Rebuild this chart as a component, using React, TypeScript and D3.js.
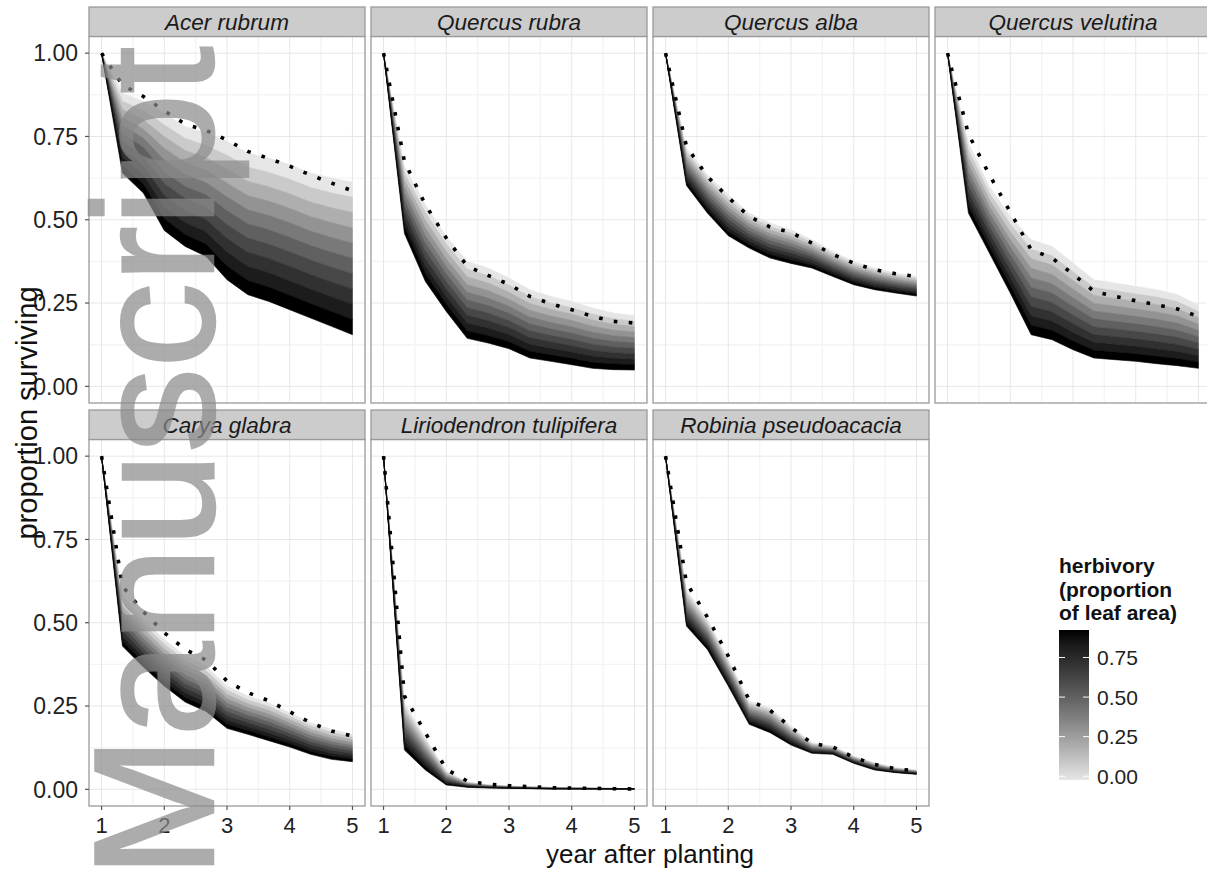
import * as d3 from 'd3';
import { FC } from 'react';

// census times (years after planting)
const years = [1, 1.333, 1.667, 2, 2.333, 2.667, 3, 3.333, 3.667, 4, 4.333, 4.667, 5];

const speciesNames = [
  'Acer rubrum',
  'Quercus rubra',
  'Quercus alba',
  'Quercus velutina',
  'Carya glabra',
  'Liriodendron tulipifera',
  'Robinia pseudoacacia',
];

// dotted line (undamaged) and shaded envelope: least (low) and most (high) herbivory
const acerRubrumObs = [1.0, 0.905, 0.87, 0.827, 0.787, 0.768, 0.739, 0.705, 0.684, 0.661, 0.634, 0.61, 0.587];
const acerRubrumLow = [1.0, 0.88, 0.855, 0.82, 0.78, 0.76, 0.735, 0.7, 0.685, 0.665, 0.64, 0.625, 0.613];
const acerRubrumHigh = [1.0, 0.64, 0.58, 0.468, 0.42, 0.39, 0.32, 0.275, 0.255, 0.23, 0.205, 0.18, 0.155];

const quercusRubraObs = [1.0, 0.675, 0.545, 0.445, 0.361, 0.333, 0.306, 0.27, 0.248, 0.23, 0.21, 0.195, 0.19];
const quercusRubraLow = [1.0, 0.66, 0.545, 0.45, 0.375, 0.355, 0.325, 0.29, 0.27, 0.255, 0.235, 0.22, 0.212];
const quercusRubraHigh = [1.0, 0.459, 0.315, 0.225, 0.144, 0.13, 0.113, 0.085, 0.075, 0.065, 0.054, 0.05, 0.049];

const quercusAlbaObs = [1.0, 0.72, 0.63, 0.567, 0.51, 0.478, 0.462, 0.43, 0.396, 0.37, 0.35, 0.338, 0.33];
const quercusAlbaLow = [1.0, 0.715, 0.635, 0.575, 0.52, 0.49, 0.47, 0.44, 0.405, 0.375, 0.355, 0.34, 0.33];
const quercusAlbaHigh = [1.0, 0.603, 0.52, 0.452, 0.415, 0.385, 0.369, 0.355, 0.33, 0.305, 0.29, 0.28, 0.271];

const quercusVelutinaObs = [1.0, 0.757, 0.635, 0.523, 0.41, 0.385, 0.337, 0.285, 0.27, 0.257, 0.245, 0.232, 0.21];
const quercusVelutinaLow = [1.0, 0.73, 0.6, 0.51, 0.44, 0.42, 0.37, 0.32, 0.31, 0.3, 0.29, 0.275, 0.244];
const quercusVelutinaHigh = [1.0, 0.52, 0.4, 0.28, 0.155, 0.14, 0.11, 0.085, 0.08, 0.075, 0.068, 0.062, 0.054];

const caryaGlabraObs = [1.0, 0.61, 0.533, 0.47, 0.42, 0.388, 0.325, 0.29, 0.266, 0.233, 0.2, 0.175, 0.16];
const caryaGlabraLow = [1.0, 0.58, 0.51, 0.45, 0.4, 0.37, 0.31, 0.28, 0.26, 0.23, 0.2, 0.18, 0.165];
const caryaGlabraHigh = [1.0, 0.43, 0.367, 0.31, 0.262, 0.234, 0.183, 0.165, 0.146, 0.127, 0.105, 0.09, 0.083];

const liriodendronObs = [1.0, 0.28, 0.17, 0.06, 0.025, 0.015, 0.011, 0.008, 0.005, 0.004, 0.003, 0.002, 0.001];
const liriodendronLow = [1.0, 0.26, 0.155, 0.055, 0.022, 0.014, 0.01, 0.008, 0.006, 0.005, 0.004, 0.003, 0.002];
const liriodendronHigh = [1.0, 0.118, 0.058, 0.013, 0.006, 0.004, 0.003, 0.002, 0.001, 0.001, 0.001, 0.001, 0.001];

const robiniaObs = [1.0, 0.62, 0.517, 0.4, 0.268, 0.237, 0.186, 0.138, 0.127, 0.096, 0.075, 0.062, 0.055];
const robiniaLow = [1.0, 0.6, 0.51, 0.39, 0.265, 0.245, 0.19, 0.14, 0.13, 0.1, 0.08, 0.065, 0.058];
const robiniaHigh = [1.0, 0.49, 0.42, 0.31, 0.195, 0.17, 0.133, 0.108, 0.105, 0.078, 0.058, 0.05, 0.045];

// herbivory classes drawn as stacked shades, least damage on top
const herbivoryLevels = [0, 0.1, 0.2, 0.3, 0.4, 0.5, 0.6, 0.7, 0.8, 0.9];
const herbivoryMax = 0.9;
const xTicks = [1, 2, 3, 4, 5];
const xMinor = [1.5, 2.5, 3.5, 4.5];
const yTicks = [0, 0.25, 0.5, 0.75, 1];
const yMinor = [0.125, 0.375, 0.625, 0.875];
const legendTicks = [0, 0.25, 0.5, 0.75];

const panels = [
  { obs: acerRubrumObs, low: acerRubrumLow, high: acerRubrumHigh },
  { obs: quercusRubraObs, low: quercusRubraLow, high: quercusRubraHigh },
  { obs: quercusAlbaObs, low: quercusAlbaLow, high: quercusAlbaHigh },
  { obs: quercusVelutinaObs, low: quercusVelutinaLow, high: quercusVelutinaHigh },
  { obs: caryaGlabraObs, low: caryaGlabraLow, high: caryaGlabraHigh },
  { obs: liriodendronObs, low: liriodendronLow, high: liriodendronHigh },
  { obs: robiniaObs, low: robiniaLow, high: robiniaHigh },
].map((p, i) => ({ ...p, name: speciesNames[i] }));

type PanelData = (typeof panels)[number];
type Pt = { t: number; obs: number; low: number; high: number };

const W = 1207;
const H = 869;
const plotLeft = 89;
const panelW = 276;
const colGap = 6;
const stripTop0 = 7;
const stripH = 29.5;
const panelH = 366.5;
const rowGap = 7;
const font = "'Liberation Sans', Arial, Helvetica, sans-serif";

const fillScale = d3
  .scaleLinear<string>()
  .domain([0, herbivoryMax])
  .range(['#e6e6e6', '#000000'])
  .interpolate(d3.interpolateLab);

const x = d3.scaleLinear().domain([0.8, 5.2]).range([0, panelW]);
const y = d3.scaleLinear().domain([-0.05, 1.05]).range([panelH, 0]);

const Panel: FC<{ p: PanelData; i: number }> = ({ p, i }) => {
  const col = i % 4;
  const row = Math.floor(i / 4);
  const left = plotLeft + col * (panelW + colGap);
  const stripTop = stripTop0 + row * (stripH + panelH + rowGap);
  const top = stripTop + stripH;
  const bottomRow = i >= 4;

  const pts: Pt[] = years.map((t, j) => ({ t, obs: p.obs[j], low: p.low[j], high: p.high[j] }));
  // position of a herbivory class edge inside the low..high envelope
  const edge = (d: Pt, k: number) => d.low + (d.high - d.low) * (k / herbivoryLevels.length);

  const line = d3
    .line<Pt>()
    .x((d) => x(d.t))
    .y((d) => y(d.obs));

  return (
    <g>
      <g transform={`translate(${left},${top})`}>
        <rect width={panelW} height={panelH} fill="#fff" />
        {xMinor.map((v) => (
          <line key={'vx' + v} x1={x(v)} x2={x(v)} y1={0} y2={panelH} stroke="#f4f4f4" strokeWidth={1.4} />
        ))}
        {yMinor.map((v) => (
          <line key={'vy' + v} x1={0} x2={panelW} y1={y(v)} y2={y(v)} stroke="#f4f4f4" strokeWidth={1.4} />
        ))}
        {xTicks.map((v) => (
          <line key={'mx' + v} x1={x(v)} x2={x(v)} y1={0} y2={panelH} stroke="#e4e4e4" strokeWidth={0.9} />
        ))}
        {yTicks.map((v) => (
          <line key={'my' + v} x1={0} x2={panelW} y1={y(v)} y2={y(v)} stroke="#e4e4e4" strokeWidth={0.9} />
        ))}
        {herbivoryLevels.map((h, k) => {
          const a = d3
            .area<Pt>()
            .x((d) => x(d.t))
            .y0((d) => y(edge(d, k + 1)))
            .y1((d) => y(edge(d, k)));
          const c = fillScale(h);
          return <path key={k} d={a(pts) ?? ''} fill={c} stroke={c} strokeWidth={0.6} />;
        })}
        <path d={line(pts) ?? ''} fill="none" stroke="#000" strokeWidth={3.6} strokeDasharray="3.6 11.4" />
        <rect width={panelW} height={panelH} fill="none" stroke="#9a9a9a" strokeWidth={1.3} />
        {col === 0 &&
          yTicks.map((v) => (
            <g key={'yt' + v}>
              <line x1={-4} x2={0} y1={y(v)} y2={y(v)} stroke="#555" strokeWidth={1.2} />
              <text x={-11} y={y(v)} dy="0.36em" textAnchor="end" fontSize={23} fill="#222">
                {v.toFixed(2)}
              </text>
            </g>
          ))}
        {bottomRow &&
          xTicks.map((v) => (
            <g key={'xt' + v}>
              <line x1={x(v)} x2={x(v)} y1={panelH} y2={panelH + 4} stroke="#555" strokeWidth={1.2} />
              <text x={x(v)} y={panelH + 27} textAnchor="middle" fontSize={22} fill="#222">
                {v}
              </text>
            </g>
          ))}
      </g>
      <rect x={left} y={stripTop} width={panelW} height={stripH} fill="#cccccc" stroke="#9a9a9a" strokeWidth={1.3} />
      <text
        x={left + panelW / 2}
        y={stripTop + stripH / 2}
        dy="0.36em"
        textAnchor="middle"
        fontSize={22.5}
        fontStyle="italic"
        fill="#1a1a1a"
      >
        {p.name}
      </text>
    </g>
  );
};

const App: FC = () => {
  const legX = 1059;
  const legW = 30;
  const barTop = 630;
  const barBottom = 780;
  const half = (barBottom - barTop) / 40;
  const ly = d3.scaleLinear().domain([0, herbivoryMax]).range([barBottom - half, barTop + half]);
  const stops = d3.range(0, 1.0001, 0.1);
  const panelsMid = (stripTop0 + 2 * (stripH + panelH) + rowGap) / 2;

  return (
    <svg width={W} height={H} style={{ position: 'absolute', left: 0, top: 0 }} fontFamily={font}>
      <rect width={W} height={H} fill="#fff" />
      {panels.map((p, i) => (
        <Panel key={p.name} p={p} i={i} />
      ))}

      <text
        transform={`translate(37,${panelsMid + 10}) rotate(-90)`}
        textAnchor="middle"
        fontSize={29}
        fill="#111"
      >
        proportion surviving
      </text>
      <text x={650} y={863} textAnchor="middle" fontSize={26} fill="#111">
        year after planting
      </text>

      <defs>
        <linearGradient id="herbGrad" x1="0" y1="1" x2="0" y2="0">
          {stops.map((s) => (
            <stop key={s} offset={s} stopColor={fillScale(s * herbivoryMax)} />
          ))}
        </linearGradient>
      </defs>
      <g fontWeight="bold" fontSize={21} fill="#111">
        <text x={legX} y={573}>herbivory</text>
        <text x={legX} y={597}>(proportion</text>
        <text x={legX} y={620}>of leaf area)</text>
      </g>
      <rect x={legX} y={barTop} width={legW} height={barBottom - barTop} fill="url(#herbGrad)" />
      {legendTicks.map((v) => (
        <g key={'lt' + v}>
          <line x1={legX} x2={legX + 6} y1={ly(v)} y2={ly(v)} stroke="#fff" strokeWidth={1} />
          <line x1={legX + legW - 6} x2={legX + legW} y1={ly(v)} y2={ly(v)} stroke="#fff" strokeWidth={1} />
          <text x={legX + legW + 8} y={ly(v)} dy="0.36em" fontSize={21} fill="#222">
            {v.toFixed(2)}
          </text>
        </g>
      ))}

      <text
        transform="translate(213,878) rotate(-90)"
        fontSize={170}
        fill="#8a8a8a"
        stroke="#8a8a8a"
        strokeWidth={2.5}
        opacity={0.7}
      >
        Manuscript
      </text>
    </svg>
  );
};

export default App;
